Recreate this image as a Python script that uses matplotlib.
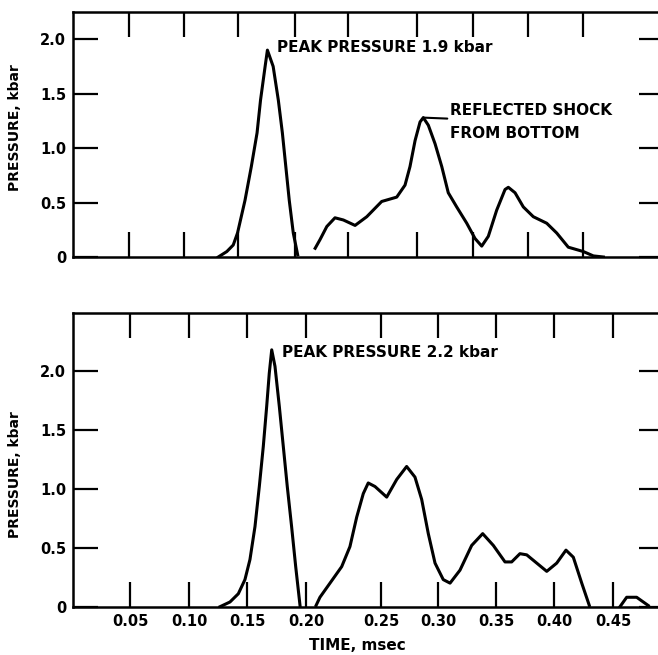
import matplotlib
matplotlib.use("Agg")
import matplotlib.pyplot as plt
import numpy as np

# upper record, main shock pulse
top_pulse_t = [0.132, 0.140, 0.146, 0.150, 0.1565, 0.162, 0.167, 0.170, 0.174, 0.176,
               0.181, 0.1855, 0.189, 0.192, 0.195, 0.1985, 0.2025]
top_pulse_p = [0.0, 0.05, 0.11, 0.22, 0.52, 0.83, 1.14, 1.44, 1.75, 1.90,
               1.75, 1.44, 1.14, 0.83, 0.52, 0.22, 0.02]

# upper record, later arrivals incl. bottom reflection
top_refl_t = [0.219, 0.2236, 0.230, 0.2377, 0.2456, 0.2551, 0.2636, 0.2744, 0.2853, 0.2913,
              0.2949, 0.2986, 0.3027, 0.3056, 0.3101, 0.3161, 0.3221, 0.3279, 0.3354, 0.3444,
              0.3518, 0.3579, 0.3639, 0.3715, 0.3791, 0.3821, 0.3882, 0.3957, 0.4048, 0.4170,
              0.4261, 0.4366, 0.4503, 0.4594, 0.4685]
top_refl_p = [0.08, 0.16, 0.28, 0.36, 0.34, 0.29, 0.37, 0.51, 0.55, 0.66,
              0.83, 1.07, 1.24, 1.28, 1.21, 1.04, 0.83, 0.59, 0.46, 0.31,
              0.17, 0.10, 0.19, 0.43, 0.62, 0.64, 0.59, 0.46, 0.37, 0.31,
              0.22, 0.09, 0.05, 0.01, 0.0]

# lower record
bot_pulse_t = [0.1263, 0.1349, 0.1421, 0.1478, 0.1521, 0.1564, 0.1601, 0.1635, 0.1664, 0.1686,
               0.1707, 0.1735, 0.1772, 0.1806, 0.1840, 0.1877, 0.1912, 0.1949]
bot_pulse_p = [0.0, 0.04, 0.11, 0.23, 0.40, 0.68, 1.02, 1.36, 1.70, 1.98,
               2.18, 2.04, 1.70, 1.36, 1.02, 0.68, 0.34, 0.01]

bot_tail_t = [0.2067, 0.2093, 0.2160, 0.2238, 0.2293, 0.2338, 0.2382, 0.2415, 0.2460, 0.2550,
              0.2638, 0.2725, 0.2798, 0.2857, 0.2915, 0.2974, 0.3045, 0.3103, 0.3188, 0.3288,
              0.3382, 0.3473, 0.3574, 0.3632, 0.3704, 0.3763, 0.3850, 0.3937, 0.4023, 0.4101,
              0.4163, 0.4234, 0.4298]
bot_tail_p = [0.01, 0.08, 0.20, 0.34, 0.51, 0.76, 0.96, 1.05, 1.02, 0.93,
              1.08, 1.19, 1.10, 0.91, 0.62, 0.37, 0.23, 0.20, 0.31, 0.52,
              0.62, 0.52, 0.38, 0.38, 0.45, 0.44, 0.37, 0.30, 0.37, 0.48,
              0.42, 0.20, 0.01]

bot_bump_t = [0.4557, 0.4614, 0.4699, 0.4798]
bot_bump_p = [0.0, 0.08, 0.08, 0.01]

time_ticks = [0.05, 0.10, 0.15, 0.20, 0.25, 0.30, 0.35, 0.40, 0.45]
time_labels = ["0.05", "0.10", "0.15", "0.20", "0.25", "0.30", "0.35", "0.40", "0.45"]
p_ticks = [0, 0.5, 1.0, 1.5, 2.0]
p_labels = ["0", "0.5", "1.0", "1.5", "2.0"]

# the scanned time axes are not evenly divided, so map them piecewise
scale_t = [-0.05, 0.0, 0.05, 0.10, 0.15, 0.20, 0.25, 0.30, 0.35, 0.40, 0.45, 0.50, 0.55]
top_scale = [18, 73, 129, 184, 237.5, 295, 348, 417, 473, 528, 583, 638, 693]
bot_scale = [15.5, 73, 130.5, 189.5, 247.5, 306, 381, 438, 496.5, 554, 613.3, 672, 730.7]


def piecewise(ref):
    fwd = lambda t: np.interp(t, scale_t, ref)
    inv = lambda v: np.interp(v, ref, scale_t)
    return fwd, inv


W, H = 658, 655
fig = plt.figure(figsize=(W / 100, H / 100), dpi=100)
ax1 = fig.add_axes([73 / W, 1 - 257 / H, 591 / W, 245 / H])
ax2 = fig.add_axes([73 / W, 1 - 606.7 / H, 591 / W, 293.4 / H])

font = dict(family="DejaVu Sans", weight="bold")

for ax, ref, xmax, ymax in [(ax1, top_scale, 0.5236, 2.25), (ax2, bot_scale, 0.4932, 2.49)]:
    ax.set_xscale("function", functions=piecewise(ref))
    ax.set_xlim(0, xmax)
    ax.set_ylim(0, ymax)
    ax.set_xticks(time_ticks)
    ax.set_yticks(p_ticks)
    ax.set_yticklabels(p_labels, fontsize=10.5, **font)
    ax.tick_params(direction="in", length=18, width=1.6, top=True, right=True, pad=5)
    for s in ax.spines.values():
        s.set_linewidth(1.8)
    ax.set_ylabel("PRESSURE, kbar", fontsize=10, **font)

ax1.set_xticklabels([])
ax2.set_xticklabels(time_labels, fontsize=10.5, **font)
ax1.yaxis.set_label_coords(-0.086, 0.527)
ax2.yaxis.set_label_coords(-0.086, 0.449)

ax1.plot(top_pulse_t, top_pulse_p, color="black", lw=2.2)
ax1.plot(top_refl_t, top_refl_p, color="black", lw=2.2)
ax2.plot(bot_pulse_t, bot_pulse_p, color="black", lw=2.2)
ax2.plot(bot_tail_t, bot_tail_p, color="black", lw=2.2)
ax2.plot(bot_bump_t, bot_bump_p, color="black", lw=2.2)

ax1.text(0.1843, 1.92, "PEAK PRESSURE 1.9 kbar", fontsize=11, va="center", **font)
ax1.annotate("REFLECTED SHOCK\nFROM BOTTOM", xy=(0.3056, 1.28), xytext=(0.3295, 1.24),
             fontsize=11, va="center", linespacing=1.6,
             arrowprops=dict(arrowstyle="-", color="black", lw=1.5,
                             shrinkA=0, shrinkB=0), **font)
ax2.text(0.1792, 2.16, "PEAK PRESSURE 2.2 kbar", fontsize=11, va="center", **font)

fig.text(357 / W, 1 - 646 / H, "TIME, msec", fontsize=11, ha="center", va="center", **font)

fig.savefig("out.png", dpi=100)
